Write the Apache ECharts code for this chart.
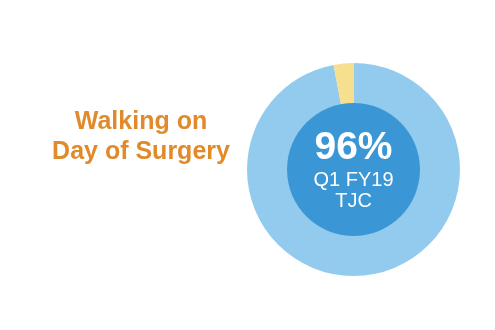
<!DOCTYPE html>
<html><head><meta charset="utf-8">
<script src="https://cdn.jsdelivr.net/npm/echarts@6/dist/echarts.min.js"></script>
<style>html,body{margin:0;padding:0;background:#fff}#c{width:495px;height:330px}</style>
</head><body><div id="c"></div>
<script>
const categories = ['Walking', 'Not walking'];
const values = [97, 3];
const headline = '96%';
const subLines = ['Q1 FY19', 'TJC'];
const titleLines = ['Walking on', 'Day of Surgery'];

const chart = echarts.init(document.getElementById('c'));
chart.setOption({
  animation: false,
  title: {
    text: titleLines.join('\n'),
    left: 136, top: 102, textAlign: 'center',
    textStyle: {fontFamily: 'Liberation Sans, Arial', fontWeight: 'bold', fontSize: 25, color: '#E08A2C', lineHeight: 30}
  },
  series: [
    {
      type: 'pie', radius: [66, 106.5], center: [353.5, 169.5], startAngle: 90, clockwise: true,
      silent: true, label: {show: false}, labelLine: {show: false},
      itemStyle: {borderWidth: 0},
      data: categories.map((c, i) => ({name: c, value: values[i], itemStyle: {color: i === 0 ? '#93CBEE' : '#F6DF8E'}}))
    },
    {
      type: 'pie', radius: [0, 66.5], center: [353.5, 169.5], silent: true,
      itemStyle: {color: '#3A96D4'},
      label: {
        show: true, position: 'center',
        formatter: '{a|' + headline + '}\n{b|' + subLines[0] + '}\n{b|' + subLines[1] + '}',
        rich: {
          a: {fontFamily: 'Liberation Sans, Arial', fontWeight: 'bold', fontSize: 39, color: '#fff', lineHeight: 42},
          b: {fontFamily: 'Liberation Sans, Arial', fontSize: 20, color: '#fff', lineHeight: 21}
        }
      },
      labelLine: {show: false},
      data: [{name: 'center', value: 1}]
    }
  ]
});
</script></body></html>
